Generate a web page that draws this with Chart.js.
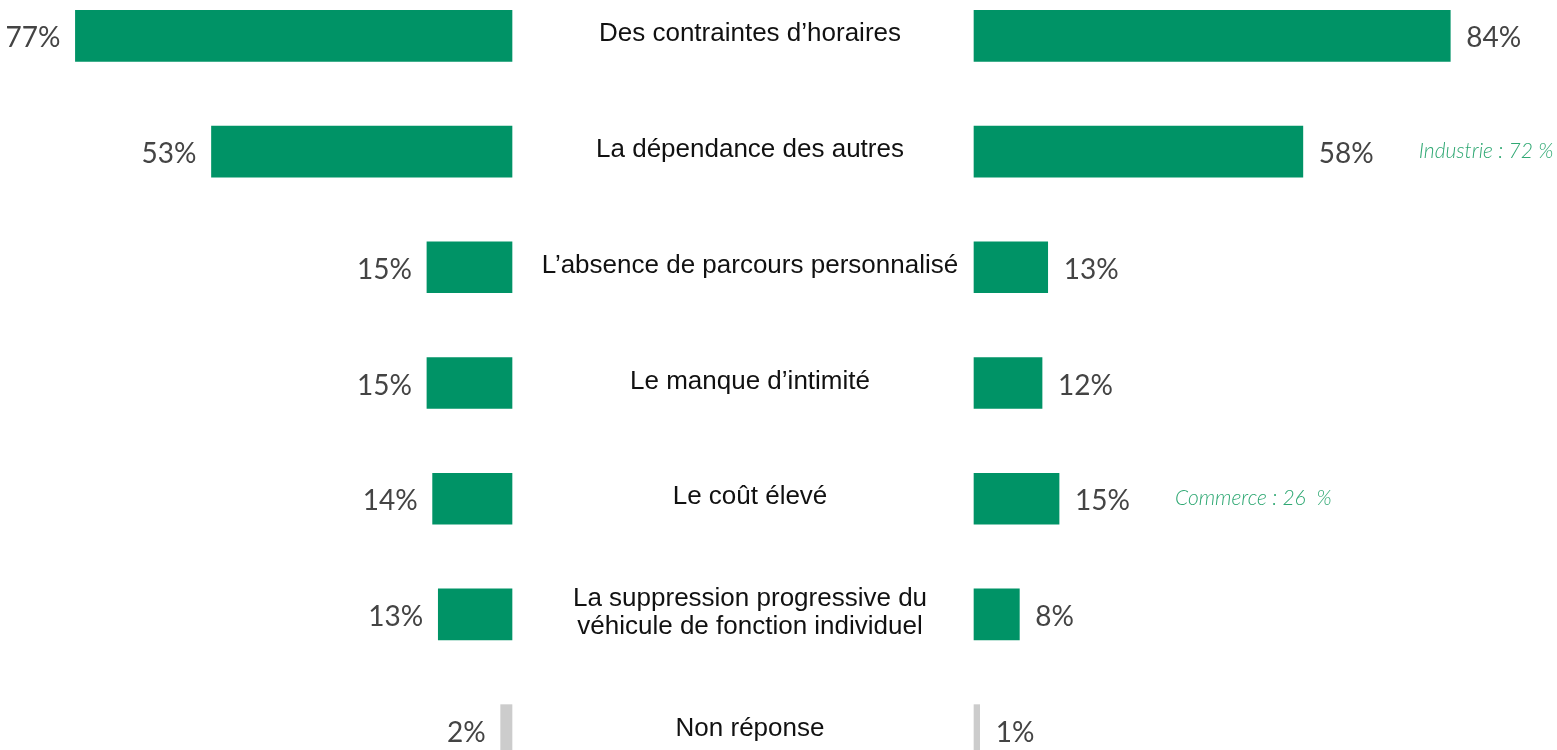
<!DOCTYPE html>
<html lang="fr">
<head>
<meta charset="utf-8">
<title>Freins au covoiturage</title>
<script src="https://cdn.jsdelivr.net/npm/chart.js@4.4.1/dist/chart.umd.min.js"></script>
<style>
  html, body { margin: 0; padding: 0; background: #fff; overflow: hidden; }
  #wrap { position: absolute; left: 0; top: -22px; width: 1557px; height: 810px; }
</style>
</head>
<body>
<div id="wrap"><canvas id="graphique"></canvas></div>
<script>
// Libellés des lignes (au centre)
const categories = [
  'Des contraintes d’horaires',
  'La dépendance des autres',
  'L’absence de parcours personnalisé',
  'Le manque d’intimité',
  'Le coût élevé',
  ['La suppression progressive du', 'véhicule de fonction individuel'],
  'Non réponse'
];

// Valeurs en % : série de gauche et série de droite
const valeursGauche = [77, 53, 15, 15, 14, 13, 2];
const valeursDroite = [84, 58, 13, 12, 15, 8, 1];

// Remarques sectorielles affichées à droite
const remarqueLignes = [1, 4];
const remarqueTextes = ['Industrie : 72 %', 'Commerce : 26  %'];

const vert = '#009366';
const gris = '#cccccc';
const couleurs = categories.map((_, i) => i === categories.length - 1 ? gris : vert);

// Dessine les libellés centraux, les pourcentages et les remarques
const etiquettes = {
  id: 'etiquettes',
  afterDatasetsDraw(chart) {
    const ctx = chart.ctx;
    const xl = chart.scales.xl;
    const xr = chart.scales.xr;
    const centre = (xl.getPixelForValue(0) + xr.getPixelForValue(0)) / 2 + 7;
    const metaG = chart.getDatasetMeta(0);
    const metaD = chart.getDatasetMeta(1);

    ctx.save();
    categories.forEach((cat, i) => {
      const y = metaG.data[i].y;
      ctx.fillStyle = '#111';
      ctx.font = '26px "Liberation Sans", Arial, sans-serif';
      ctx.textAlign = 'center';
      ctx.textBaseline = 'alphabetic';
      const lignes = Array.isArray(cat) ? cat : [cat];
      lignes.forEach((l, k) => {
        const dy = (k - (lignes.length - 1) / 2) * 28.3;
        ctx.fillText(l, centre, y + 5.5 + dy);
      });

      ctx.fillStyle = '#444';
      ctx.font = '400 28px Lato, "Open Sans", sans-serif';
      ctx.textAlign = 'right';
      ctx.fillText(valeursGauche[i] + '%', metaG.data[i].x - 15, y + 11.5);
      ctx.textAlign = 'left';
      const txt = valeursDroite[i] + '%';
      const xd = metaD.data[i].x + 16;
      ctx.fillText(txt, xd, y + 11.5);

      const r = remarqueLignes.indexOf(i);
      if (r >= 0) {
        const finTxt = xd + ctx.measureText(txt).width;
        ctx.fillStyle = '#2fa873';
        ctx.font = 'italic 300 21px Lato, "Open Sans", sans-serif';
        ctx.fillText(remarqueTextes[r], finTxt + 45, y + 6.5);
      }
    });
    ctx.restore();
  }
};

const pxParPoint = 5.67;
const largeur = 1557;
const etendue = largeur / pxParPoint;

new Chart(document.getElementById('graphique').getContext('2d'), {
  type: 'bar',
  data: {
    labels: categories,
    datasets: [
      {
        label: 'Gauche',
        data: valeursGauche,
        xAxisID: 'xl',
        backgroundColor: couleurs,
        borderWidth: 0,
        barThickness: 51,
      },
      {
        label: 'Droite',
        data: valeursDroite,
        xAxisID: 'xr',
        backgroundColor: couleurs,
        borderWidth: 0,
        barThickness: 51,
      },
    ],
  },
  options: {
    indexAxis: 'y',
    responsive: true,
    maintainAspectRatio: false,
    animation: false,
    layout: { padding: 0 },
    plugins: {
      legend: { display: false },
      tooltip: { enabled: false },
    },
    scales: {
      // axe de gauche inversé : 0 à x = 512
      xl: {
        type: 'linear',
        reverse: true,
        min: 512 / pxParPoint - etendue,
        max: 512 / pxParPoint,
        display: false,
      },
      // axe de droite : 0 à x = 974
      xr: {
        type: 'linear',
        min: -974 / pxParPoint,
        max: -974 / pxParPoint + etendue,
        display: false,
      },
      y: {
        display: false,
      },
    },
    datasets: { bar: { grouped: false } },
  },
  plugins: [etiquettes],
});
</script>
</body>
</html>
